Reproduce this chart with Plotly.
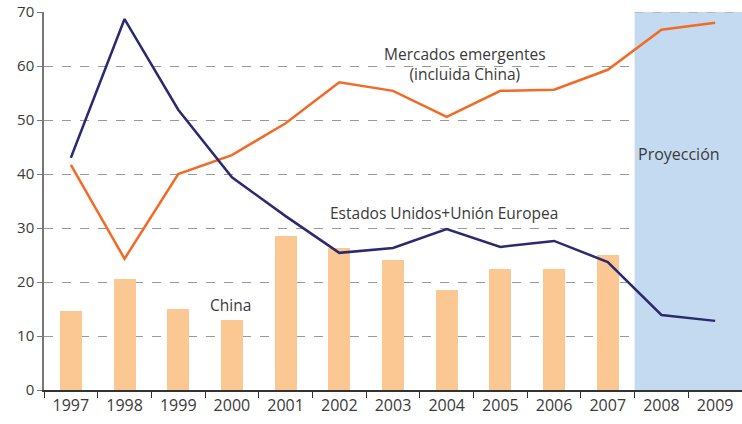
import plotly.graph_objects as go

years = ["1997", "1998", "1999", "2000", "2001", "2002", "2003",
         "2004", "2005", "2006", "2007", "2008", "2009"]
china = [14.6, 20.6, 15.0, 13.0, 28.5, 26.3, 24.1, 18.5, 22.4, 22.4, 25.0, None, None]
emergentes = [41.7, 24.3, 40.0, 43.5, 49.4, 57.0, 55.4, 50.6, 55.4, 55.6, 59.3, 66.7, 68.0]
usa_ue = [43.0, 68.7, 51.9, 39.4, 32.2, 25.4, 26.3, 29.8, 26.5, 27.6, 23.7, 13.9, 12.8]
y_ticks = [0, 10, 20, 30, 40, 50, 60, 70]

FONT = "Open Sans, Lato, sans-serif"
TEXT = "#3a3a3a"

fig = go.Figure()

# projection zone (2008-2009), drawn over the grid but under the data
fig.add_shape(type="rect", xref="x", yref="y", x0=10.5, x1=12.5, y0=0, y1=70,
              fillcolor="#c4daf0", line_width=0, layer="between")
# top dashed line stays visible across the shaded zone
fig.add_shape(type="line", xref="x", yref="y", x0=10.5, x1=12.5, y0=70, y1=70,
              line=dict(color="#999", width=1, dash="dash"), layer="between")

fig.add_trace(go.Bar(x=years, y=china, marker_color="#fbc793", width=0.41,
                     name="China", marker_line_width=0))
fig.add_trace(go.Scatter(x=years, y=emergentes, mode="lines",
                         line=dict(color="#f26a25", width=2.5), name="Mercados emergentes"))
fig.add_trace(go.Scatter(x=years, y=usa_ue, mode="lines",
                         line=dict(color="#2c2a6e", width=2.5), name="Estados Unidos+Unión Europea"))

fig.add_annotation(x=7.34, y=60.4, text="Mercados emergentes<br>(incluida China)",
                   showarrow=False, font=dict(size=15.5, color=TEXT, family=FONT))
fig.add_annotation(x=6.95, y=32.8, text="Estados Unidos+Unión Europea",
                   showarrow=False, font=dict(size=15.5, color=TEXT, family=FONT))
fig.add_annotation(x=2.98, y=15.7, text="China",
                   showarrow=False, font=dict(size=15.5, color=TEXT, family=FONT))
fig.add_annotation(x=11.33, y=43.7, text="Proyección",
                   showarrow=False, font=dict(size=16, color=TEXT, family=FONT))

fig.update_layout(
    width=742, height=424,
    margin=dict(l=44, r=0, t=12, b=34),
    plot_bgcolor="white", paper_bgcolor="white",
    showlegend=False,
    bargap=0,
    font=dict(family=FONT, size=15, color=TEXT),
)
fig.update_xaxes(type="category", range=[-0.5, 12.5], tickson="boundaries",
                 ticks="outside", ticklen=6, tickcolor="#333", showline=True,
                 linecolor="#333", linewidth=1.5, showgrid=False,
                 tickfont=dict(size=16, color=TEXT))
fig.update_yaxes(range=[0, 70], tickvals=y_ticks, ticks="outside", ticklen=5,
                 tickcolor="#777", showline=True, linecolor="#777", linewidth=1.5,
                 gridcolor="#999", griddash="dash", gridwidth=1, zeroline=False,
                 tickfont=dict(size=15, color=TEXT))

fig.write_html("out.html", config={"displayModeBar": False},
               post_script="document.body.style.margin = '0';")
